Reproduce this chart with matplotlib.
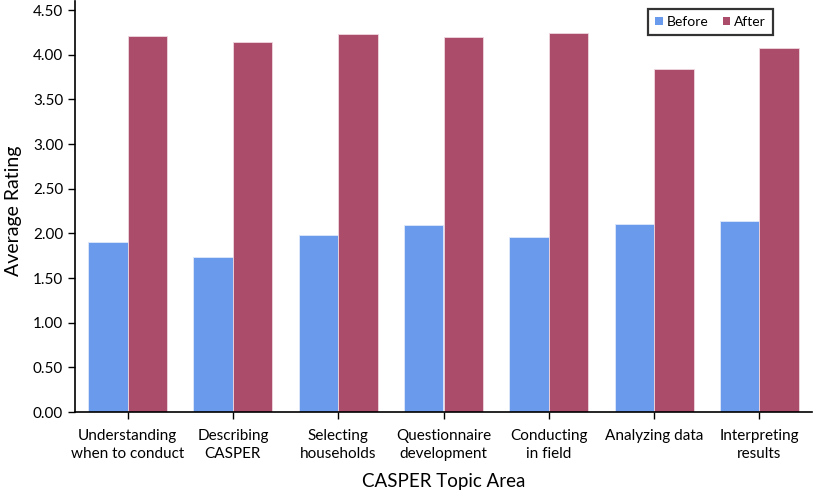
import matplotlib
matplotlib.use("Agg")
import matplotlib.pyplot as plt
import numpy as np

categories = ["Understanding\nwhen to conduct", "Describing\nCASPER", "Selecting\nhouseholds",
              "Questionnaire\ndevelopment", "Conducting\nin field", "Analyzing data", "Interpreting\nresults"]
before = [1.90, 1.73, 1.98, 2.09, 1.96, 2.10, 2.14]
after = [4.21, 4.14, 4.23, 4.20, 4.24, 3.84, 4.07]
yticks = [0.0, 0.5, 1.0, 1.5, 2.0, 2.5, 3.0, 3.5, 4.0, 4.5]

plt.rcParams['font.family'] = ['Lato', 'DejaVu Sans']

W, H = 816, 492
fig = plt.figure(figsize=(W/100, H/100), dpi=100)
left, right, bottom, top = 75, 812, 412, 10
ymax = 4.5
ax = fig.add_axes([left/W, 1-bottom/H, (right-left)/W, (bottom-top)/H])

x = np.arange(len(categories))
bw = 0.375
ax.bar(x - bw/2, before, bw, color='#6A9AEB', edgecolor='#DDE8FA', linewidth=0.6, label='Before')
ax.bar(x + bw/2, after, bw, color='#AA4C6A', edgecolor='#F0D8E0', linewidth=0.6, label='After')

ax.set_xlim(-0.5, len(categories)-0.5)
ax.set_ylim(0, ymax)
ax.set_yticks(yticks)
ax.set_yticklabels([f"{v:.2f}" for v in yticks], fontsize=11)
ax.set_xticks(x)
ax.set_xticklabels(categories, fontsize=11, linespacing=1.35)
ax.tick_params(axis='both', direction='out', length=5, width=1, color='black')
ax.tick_params(axis='x', pad=7)
ax.spines['top'].set_visible(False)
ax.spines['right'].set_visible(False)
ax.spines['left'].set_linewidth(1.2)
ax.spines['bottom'].set_linewidth(1.2)
ax.spines['left'].set_bounds(0, 4.6)
ax.set_ylabel("Average Rating", fontsize=14, labelpad=8)
ax.set_xlabel("CASPER Topic Area", fontsize=13.5, labelpad=9)

leg = ax.legend(loc='upper right', bbox_to_anchor=(773/W, 1-9/H), bbox_transform=fig.transFigure,
                ncol=2, fontsize=10, frameon=True, fancybox=False, handlelength=0.55, handleheight=0.55,
                handletextpad=0.3, columnspacing=1.0, borderpad=0.5, borderaxespad=0)
leg.get_frame().set_edgecolor('black')
leg.get_frame().set_linewidth(1.6)
for p in leg.get_patches():
    p.set_edgecolor('none')

fig.savefig("out.png", dpi=100)
